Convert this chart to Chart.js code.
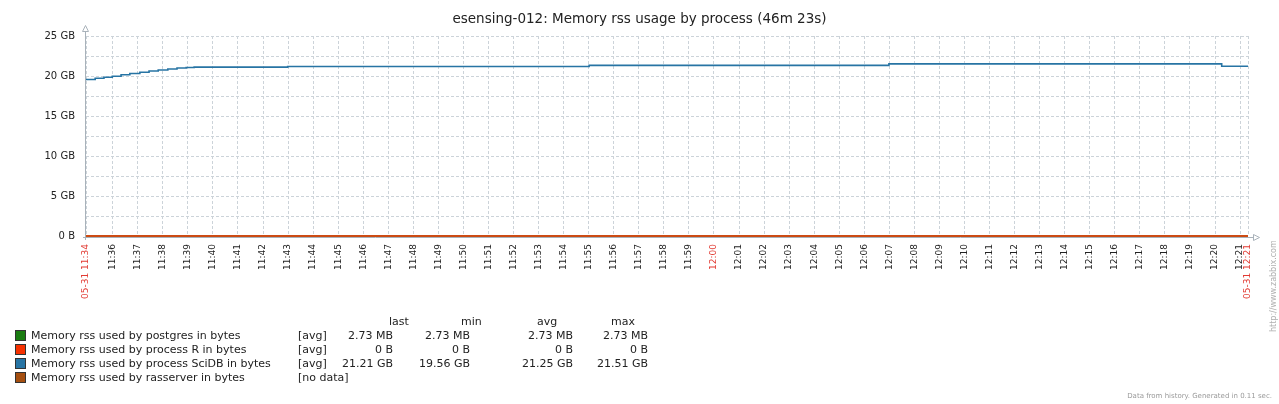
<!DOCTYPE html>
<html>
<head>
<meta charset="utf-8">
<script src="https://cdn.jsdelivr.net/npm/chart.js@4.4.0/dist/chart.umd.min.js"></script>
<style>
  html, body { margin: 0; padding: 0; background: #fff; }
  #wrap { width: 1279px; height: 404px; }
</style>
</head>
<body>
<div id="wrap"><canvas id="memChart" width="1279" height="404"></canvas></div>
<script>
const graphTitle = "esensing-012: Memory rss usage by process (46m 23s)";
const dateLabel = "05-31";
const startTime = "11:34:56";
const endTime = "12:21:19";
const firstMinute = "11:36";
const lastMinute = "12:21";

// SciDB rss, GB
const scidbTimes = ["11:34:56", "11:35:18", "11:35:39", "11:35:59", "11:36:20", "11:36:41",
  "11:37:05", "11:37:27", "11:37:49", "11:38:12", "11:38:34", "11:38:56", "11:39:15",
  "11:42:59", "11:55:01", "12:06:59", "12:20:16", "12:21:19"];
const scidbValues = [19.56, 19.71, 19.84, 19.96, 20.15, 20.32,
  20.46, 20.62, 20.75, 20.87, 21.00, 21.06, 21.11,
  21.19, 21.33, 21.51, 21.21, 21.21];

// postgres 2.73 MB, R 0 B (GB)
const postgresTimes = ["11:34:56", "12:21:19"];
const postgresValues = [0.00273, 0.00273];
const procRTimes = ["11:34:56", "12:21:19"];
const procRValues = [0, 0];

const yMax = 25;
const yStep = 2.5;
const yLabelled = [0, 5, 10, 15, 20, 25];

const legendNames = ["Memory rss used by postgres in bytes", "Memory rss used by process R in bytes",
  "Memory rss used by process SciDB in bytes", "Memory rss used by rasserver in bytes"];
const legendColors = ["#1A7C11", "#F63100", "#2774A4", "#A54F10"];
const legendFunc = ["[avg]", "[avg]", "[avg]", "[no data]"];
const legendLast = ["2.73 MB", "0 B", "21.21 GB", ""];
const legendMin = ["2.73 MB", "0 B", "19.56 GB", ""];
const legendAvg = ["2.73 MB", "0 B", "21.25 GB", ""];
const legendMax = ["2.73 MB", "0 B", "21.51 GB", ""];

const RED = "#e23b33";
const AXIS = "#a9b2ba";
const GRID = "#ccd3d9";
const FONT = "'DejaVu Sans', sans-serif";

function toSec(t) {
    const p = t.split(":").map(Number);
    return p[0] * 3600 + p[1] * 60 + (p[2] || 0);
}
function hhmm(s) {
    const h = Math.floor(s / 3600), m = Math.floor((s % 3600) / 60);
    return String(h).padStart(2, "0") + ":" + String(m).padStart(2, "0");
}
function points(times, values) {
    return times.map((t, i) => ({ x: toSec(t), y: values[i] }));
}

const startSec = toSec(startTime);
const endSec = toSec(endTime);

let tickValues = [startSec];
for (let s = toSec(firstMinute); s <= toSec(lastMinute); s += 60) tickValues.push(s);
tickValues.push(endSec);

function isRed(v) {
    return v === startSec || v === endSec || v % 3600 === 0;
}

const decor = {
    id: "decor",
    beforeDatasetsDraw(chart) {
        // axes with arrows, under the data lines
        const c = chart.ctx;
        const a = chart.chartArea;
        c.save();
        c.strokeStyle = AXIS;
        c.lineWidth = 1;
        c.beginPath();
        c.moveTo(85.5, 31);
        c.lineTo(85.5, 240);
        c.moveTo(83, a.bottom + 1.5);
        c.lineTo(a.right + 5, a.bottom + 1.5);
        c.stroke();
        c.fillStyle = "#fff";
        c.beginPath();
        c.moveTo(85.5, 25.5);
        c.lineTo(88.5, 31.5);
        c.lineTo(82.5, 31.5);
        c.closePath();
        c.fill();
        c.stroke();
        c.beginPath();
        c.moveTo(a.right + 11.5, a.bottom + 1.5);
        c.lineTo(a.right + 5.5, a.bottom - 1.5);
        c.lineTo(a.right + 5.5, a.bottom + 4.5);
        c.closePath();
        c.fill();
        c.stroke();
        c.restore();
    },
    afterDraw(chart) {
        const c = chart.ctx;
        c.save();

        // title
        c.fillStyle = "#222";
        c.font = "13.5px " + FONT;
        c.textAlign = "center";
        c.textBaseline = "alphabetic";
        c.fillText(graphTitle, chart.width / 2, 23);

        // legend table
        c.font = "11px " + FONT;
        c.fillStyle = "#222";
        c.textAlign = "left";
        c.fillText("last", 389, 325);
        c.fillText("min", 461, 325);
        c.fillText("avg", 537, 325);
        c.fillText("max", 611, 325);
        for (let i = 0; i < legendNames.length; i++) {
            const y = 339 + i * 14;
            c.fillStyle = legendColors[i];
            c.fillRect(15, y - 9, 10, 10);
            c.strokeStyle = "#333";
            c.strokeRect(15.5, y - 8.5, 10, 10);
            c.fillStyle = "#222";
            c.textAlign = "left";
            c.fillText(legendNames[i], 31, y);
            c.fillText(legendFunc[i], 298, y);
            c.textAlign = "right";
            c.fillText(legendLast[i], 393, y);
            c.fillText(legendMin[i], 470, y);
            c.fillText(legendAvg[i], 573, y);
            c.fillText(legendMax[i], 648, y);
        }

        // footer texts
        c.fillStyle = "#9a9a9a";
        c.font = "7px " + FONT;
        c.textAlign = "right";
        c.fillText("Data from history. Generated in 0.11 sec.", 1272, 398);
        c.translate(1276, 332);
        c.rotate(-Math.PI / 2);
        c.textAlign = "left";
        c.fillStyle = "#b0b0b0";
        c.font = "8px " + FONT;
        c.fillText("http://www.zabbix.com", 0, 0);
        c.restore();
    }
};

const ctx = document.getElementById("memChart").getContext("2d");

const chart = new Chart(ctx, {
    type: "line",
    data: {
        datasets: [
            {
                label: legendNames[0],
                data: points(postgresTimes, postgresValues),
                borderColor: legendColors[0],
                borderWidth: 1.5,
                pointRadius: 0,
                clip: false,
                order: 3
            },
            {
                label: legendNames[1],
                data: points(procRTimes, procRValues),
                borderColor: legendColors[1],
                borderWidth: 1.6,
                pointRadius: 0,
                clip: false,
                order: 1
            },
            {
                label: legendNames[2],
                data: points(scidbTimes, scidbValues),
                borderColor: legendColors[2],
                borderWidth: 1.6,
                pointRadius: 0,
                stepped: true,
                clip: false,
                order: 2
            }
        ]
    },
    options: {
        responsive: false,
        animation: false,
        events: [],
        layout: { padding: { left: 0, right: 31, top: 36, bottom: 0 } },
        plugins: {
            legend: { display: false },
            title: { display: false },
            tooltip: { enabled: false }
        },
        scales: {
            x: {
                type: "linear",
                min: startSec,
                max: endSec,
                afterBuildTicks: (scale) => {
                    scale.ticks = tickValues.map(v => ({ value: v }));
                },
                afterFit: (scale) => { scale.height = 168; },
                grid: { color: GRID, lineWidth: 1, drawTicks: false },
                border: { display: false, dash: [3, 2] },
                ticks: {
                    autoSkip: false,
                    minRotation: 90,
                    maxRotation: 90,
                    padding: 8,
                    font: { family: FONT, size: 9 },
                    color: (c) => isRed(c.tick && c.tick.value) ? RED : "#222",
                    callback: (v) => {
                        if (v === startSec || v === endSec) return dateLabel + " " + hhmm(v);
                        return hhmm(v);
                    }
                }
            },
            y: {
                min: 0,
                max: yMax,
                afterFit: (scale) => { scale.width = 86; },
                grid: {
                    color: (c) => c.tick && c.tick.value === 0 ? "rgba(0,0,0,0)" : GRID,
                    lineWidth: 1,
                    drawTicks: false
                },
                border: { display: false, dash: [3, 2] },
                ticks: {
                    stepSize: yStep,
                    padding: 11,
                    font: { family: FONT, size: 10 },
                    color: "#222",
                    callback: (v) => {
                        if (!yLabelled.includes(v)) return "";
                        return v === 0 ? "0 B" : v + " GB";
                    }
                }
            }
        }
    },
    plugins: [decor]
});
</script>
</body>
</html>
